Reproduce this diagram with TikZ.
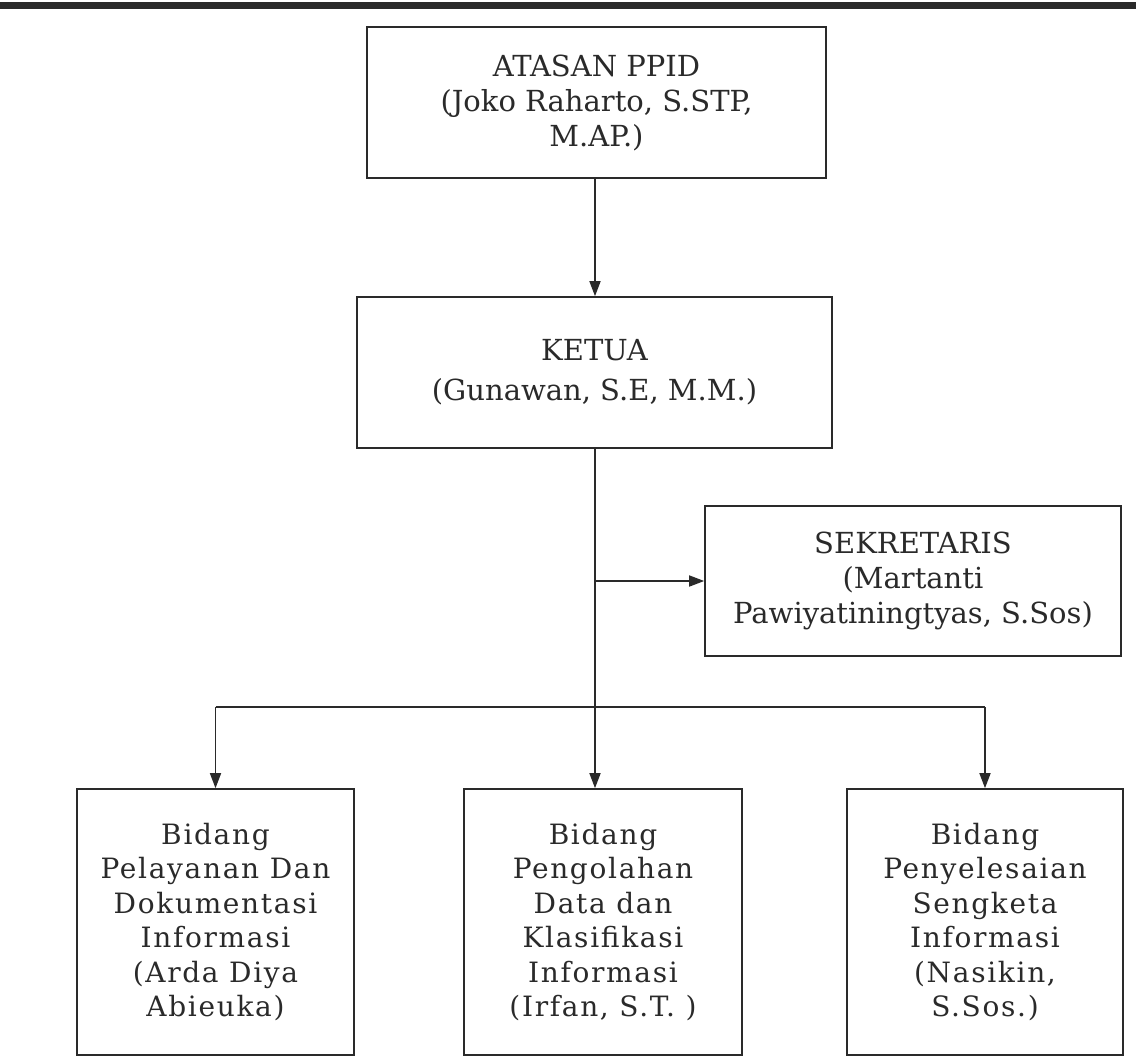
\documentclass[tikz,border=0pt]{standalone}
\usepackage{fontspec}
\setmainfont{DejaVu Serif}
\usetikzlibrary{arrows.meta}
\definecolor{ink}{HTML}{2A2A2A}
\tikzset{
  box/.style={draw=ink, line width=1.6pt, align=center, inner sep=0pt, text=ink,
    font=\fontsize{29}{35}\selectfont},
  spaced/.style={font=\fontsize{28}{34.5}\selectfont\addfontfeature{LetterSpace=6}},
  conn/.style={draw=ink, line width=1.6pt},
  arr/.style={conn, -{Triangle[length=15pt,width=11pt]}}
}
\begin{document}
\begin{tikzpicture}[x=1pt,y=-1pt]
\useasboundingbox (0,0) rectangle (1136,1057);
\fill[ink] (0,2) rectangle (1136,9);
\node[box, minimum width=459pt, minimum height=151pt] (atasan) at (596.5,102.5) {ATASAN PPID\\(Joko Raharto, S.STP,\\M.AP.)};
\node[box, minimum width=475pt, minimum height=151pt, font=\fontsize{29}{40}\selectfont] (ketua) at (594.5,372.5) {KETUA\\(Gunawan, S.E, M.M.)};
\node[box, minimum width=416pt, minimum height=150pt] (sek) at (913,581) {SEKRETARIS\\(Martanti\\Pawiyatiningtyas, S.Sos)};
\node[box, spaced, minimum width=277pt, minimum height=266pt] (b1) at (215.5,922) {Bidang\\Pelayanan Dan\\Dokumentasi\\Informasi\\(Arda Diya\\Abieuka)};
\node[box, spaced, minimum width=278pt, minimum height=266pt] (b2) at (603,922) {Bidang\\Pengolahan\\Data dan\\Klasifikasi\\Informasi\\(Irfan, S.T. )};
\node[box, spaced, minimum width=276pt, minimum height=266pt] (b3) at (985,922) {Bidang\\Penyelesaian\\Sengketa\\Informasi\\(Nasikin,\\S.Sos.)};
\coordinate (sp) at (595,707);
\coordinate (sj) at (595,581);
\draw[arr] (atasan.south -| sp) -- (ketua.north -| sp);
\draw[conn] (ketua.south -| sp) -- (sp);
\draw[arr] (sj) -- (sek.west);
\draw[conn] (b1.north |- sp) -- (b3.north |- sp);
\draw[arr] (b1.north |- sp) -- (b1.north);
\draw[arr] (sp) -- (b2.north -| sp);
\draw[arr] (b3.north |- sp) -- (b3.north);
\end{tikzpicture}
\end{document}
